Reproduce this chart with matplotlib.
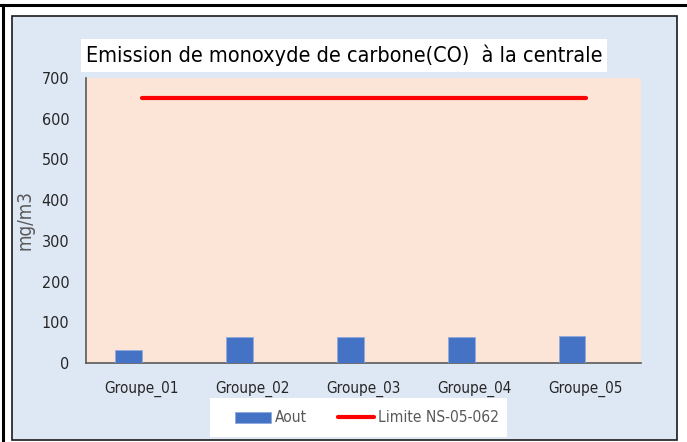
import matplotlib
matplotlib.use("Agg")
import matplotlib.pyplot as plt
from matplotlib.patches import Rectangle
from matplotlib.lines import Line2D
from matplotlib import font_manager as fm
import numpy as np

categories = ["Groupe_01", "Groupe_02", "Groupe_03", "Groupe_04", "Groupe_05"]
aout = [32, 63, 63, 63, 66]
limite = [650, 650, 650, 650, 650]
yticks = [0, 100, 200, 300, 400, 500, 600, 700]
title = "Emission de monoxyde de carbone(CO)  à la centrale"
ylabel = "mg/m3"
series_names = ["Aout", "Limite NS-05-062"]

# pick a narrow font if available
names = {f.name for f in fm.fontManager.ttflist}
narrow = None
for cand in ["Liberation Sans Narrow", "DejaVu Sans Condensed"]:
    if cand in names:
        narrow = cand
        break
if narrow is None:
    plt.rcParams['font.family'] = ["DejaVu Sans"]
    plt.rcParams['font.stretch'] = "condensed"
else:
    plt.rcParams['font.family'] = [narrow, "DejaVu Sans"]

W, H = 687, 442
fig = plt.figure(figsize=(W / 100, H / 100), dpi=100)
fig.patch.set_facecolor("white")

def fx(px):
    return px / W

def fy(py):
    return 1 - py / H

# outer border lines (top + left)
fig.add_artist(Line2D([0, 1], [fy(5), fy(5)], color="black", lw=2.2, zorder=-5))
fig.add_artist(Line2D([fx(3), fx(3)], [fy(5), 0], color="black", lw=2.2, zorder=-5))

# inner chart area
fig.add_artist(Rectangle((fx(12), fy(440)), fx(677 - 12), (440 - 16) / H,
                         facecolor="#DEE8F4", edgecolor="#1a1a1a", lw=1.2, zorder=-5))

ax = fig.add_axes([fx(86), fy(363), fx(641 - 86), (363 - 78) / H])
ax.set_facecolor("#FCE4D6")
x = np.arange(len(categories))
bw = 0.24
bars = ax.bar(x - bw, aout, width=bw, align="edge", color="#4472C4",
              edgecolor="#8FAADC", lw=0.6, zorder=3)
line, = ax.plot(x, limite, color="#FF0000", lw=3.0, solid_capstyle="round", zorder=4)
ax.set_xlim(-0.5, len(categories) - 0.5)
ax.set_ylim(0, 700)
ax.set_yticks(yticks)
ax.set_yticklabels([str(v) for v in yticks], fontsize=11.5, color="#262626")
ax.set_xticks(x)
ax.set_xticklabels(categories, fontsize=11, color="#262626")
ax.tick_params(axis="both", length=0)
ax.tick_params(axis="y", pad=12)
ax.tick_params(axis="x", pad=13)
for s in ["top", "right"]:
    ax.spines[s].set_visible(False)
ax.spines["left"].set_color("#595959")
ax.spines["left"].set_linewidth(1.2)
ax.spines["bottom"].set_color("#595959")
ax.spines["bottom"].set_linewidth(1.2)

ax.set_ylabel(ylabel, fontsize=13.5, color="#595959")
ax.yaxis.set_label_coords(fx(35 - 86) / fx(641 - 86), 0.5)

# title with white box
fig.add_artist(Rectangle((fx(81), fy(72)), fx(607 - 81), (72 - 39) / H,
                         facecolor="white", edgecolor="none", zorder=-4))
fig.text(fx(344), fy(55), title, ha="center", va="center", fontsize=15.5, color="black")

# legend
fig.add_artist(Rectangle((fx(210), fy(437)), fx(507 - 210), (437 - 398) / H,
                         facecolor="white", edgecolor="none", zorder=-4))
leg = fig.legend([bars, line], series_names, loc="center", bbox_to_anchor=(fx(367), fy(418)),
                 ncol=2, frameon=False, fontsize=11.2, handlelength=2.3,
                 columnspacing=2.0, handletextpad=0.25)
for t in leg.get_texts():
    t.set_color("#595959")

fig.savefig("out.png", dpi=100)
